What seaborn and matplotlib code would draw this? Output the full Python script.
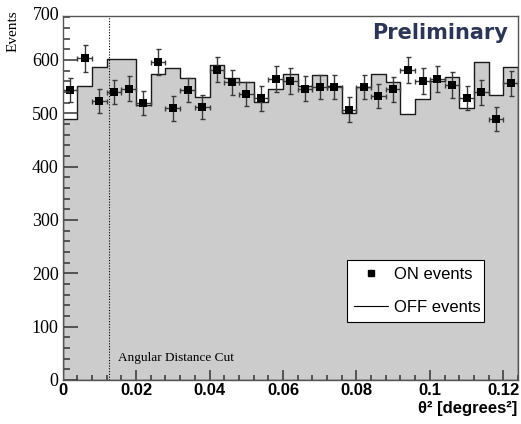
import matplotlib
matplotlib.use("Agg")
import matplotlib.pyplot as plt
import matplotlib.ticker as mticker
import seaborn as sns
import pandas as pd

# theta^2 binning (31 bins of 0.004 deg^2)
bin_width = 0.004
n_bins = 31

# OFF events (grey filled histogram)
off_counts = [490, 551, 586, 601, 601, 516, 574, 584, 567, 531, 590, 567, 559, 521, 545, 573,
              551, 571, 552, 501, 550, 573, 559, 499, 527, 560, 568, 509, 596, 534, 586]

# ON events (points with errors)
on_counts = [544, 603, 523, 540, 546, 519, 596, 509, 544, 512, 582, 558, 536, 528, 564, 560,
             546, 549, 549, 507, 549, 532, 545, 581, 561, 564, 553, 529, 539, 489, 556]
on_errors = [23, 25, 23, 23, 23, 23, 24, 23, 23, 23, 24, 24, 23, 23, 24, 24,
             23, 23, 23, 23, 23, 23, 23, 24, 24, 24, 24, 23, 23, 22, 24]

cut_value = 0.0125

edges = [i * bin_width for i in range(n_bins + 1)]
centers = [e + bin_width / 2 for e in edges[:-1]]
off_df = pd.DataFrame({"theta2": centers, "off": off_counts})

sns.set_style("ticks")
plt.rcParams.update({
    "font.family": ["Liberation Sans", "DejaVu Sans"],
    "text.color": "black",
    "xtick.labelcolor": "black",
    "ytick.labelcolor": "black",
})

fig = plt.figure(figsize=(5.21, 4.24), dpi=100, facecolor="white")
ax = fig.add_axes([0.1203, 0.1038, 0.8739, 0.8592])

# OFF histogram
sns.histplot(data=off_df, x="theta2", weights="off", bins=edges, element="step", fill=True,
             color="#cccccc", edgecolor="#1a1a1a", linewidth=1.0, alpha=1.0, ax=ax, zorder=1)

# ON events
ax.errorbar(centers, on_counts, yerr=on_errors, xerr=bin_width / 2, fmt="none",
            ecolor="#3a3a3a", elinewidth=1.0, capsize=1.8, capthick=1.0, zorder=3)
sns.scatterplot(x=centers, y=on_counts, marker="s", s=26, color="black",
                edgecolor="black", linewidth=0, ax=ax, zorder=4)

# cut line
ax.axvline(cut_value, color="black", lw=0.8, ls=(0, (1, 1.5)), zorder=2)
ax.text(cut_value + 0.0026, 41, "Angular Distance Cut", family="Liberation Serif",
        fontsize=9.5, ha="left", va="center")

ax.set_xlim(0, n_bins * bin_width)
ax.set_ylim(0, 683)
ax.set_xlabel("")
ax.set_ylabel("")

ax.xaxis.set_major_locator(mticker.MultipleLocator(0.02))
ax.xaxis.set_minor_locator(mticker.MultipleLocator(0.004))
ax.xaxis.set_major_formatter(mticker.FuncFormatter(lambda v, _: f"{v:g}"))
ax.yaxis.set_major_locator(mticker.FixedLocator([0, 100, 200, 300, 400, 500, 600]))
ax.yaxis.set_minor_locator(mticker.MultipleLocator(20))

ax.tick_params(axis="x", which="major", length=0, labelsize=12, pad=2)
ax.tick_params(axis="x", which="minor", length=0)
ax.tick_params(axis="y", which="major", length=0, labelsize=13, pad=3)
ax.tick_params(axis="y", which="minor", length=0)
for lab in ax.get_xticklabels():
    lab.set_fontweight("bold")
for lab in ax.get_yticklabels():
    lab.set_family("Liberation Serif")
ax.text(-0.007, 1.0, "700", transform=ax.transAxes, ha="right", va="center",
        family="Liberation Serif", fontsize=13)

# ROOT-style inward ticks drawn on top of the filled histogram
tick_color = "#333333"
x_major = [v for v in ax.xaxis.get_majorticklocs() if 0 <= v <= n_bins * bin_width]
x_minor = [v for v in ax.xaxis.get_minorticklocs() if 0 <= v <= n_bins * bin_width]
y_major = list(ax.yaxis.get_majorticklocs())
y_minor = [v for v in ax.yaxis.get_minorticklocs() if v <= 683]
ax.vlines(x_major, 0, 0.028, transform=ax.get_xaxis_transform(), color=tick_color, lw=1.1, zorder=5)
ax.vlines(x_minor, 0, 0.014, transform=ax.get_xaxis_transform(), color=tick_color, lw=1.1, zorder=5)
ax.hlines(y_major, 0, 0.033, transform=ax.get_yaxis_transform(), color=tick_color, lw=1.1, zorder=5)
ax.hlines(y_minor, 0, 0.017, transform=ax.get_yaxis_transform(), color=tick_color, lw=1.1, zorder=5)

for sp in ax.spines.values():
    sp.set_visible(True)
    sp.set_color("#555555")
    sp.set_linewidth(1.0)
    sp.set_zorder(6)

ax.text(0.978, 0.952, "Preliminary", transform=ax.transAxes, ha="right", va="center",
        fontsize=15, fontweight="bold", color="#2b3557", family="DejaVu Sans")

fig.text(0.025, 0.975, "Events", rotation=90, ha="center", va="top",
         family="Liberation Serif", fontsize=11)
fig.text(0.993, 0.037, "θ² [degrees²]", ha="right", va="center",
         fontsize=12, fontweight="bold")

# legend
h_on = plt.Line2D([], [], marker="s", ls="none", color="black", markersize=4)
h_off = plt.Line2D([], [], color="black", lw=0.8)
leg = ax.legend([h_on, h_off], ["ON events", "OFF events"], loc="lower left",
                bbox_to_anchor=(0.624, 0.159, 0.301, 0.176), mode="expand",
                fontsize=12, frameon=True, fancybox=False, borderpad=0.45,
                handlelength=2.0, handletextpad=0.4, labelspacing=1.05, borderaxespad=0)
leg.get_frame().set_edgecolor("black")
leg.get_frame().set_linewidth(0.8)
leg.get_frame().set_alpha(1)
leg.set_zorder(7)

fig.savefig("out.png", dpi=100, facecolor="white")
